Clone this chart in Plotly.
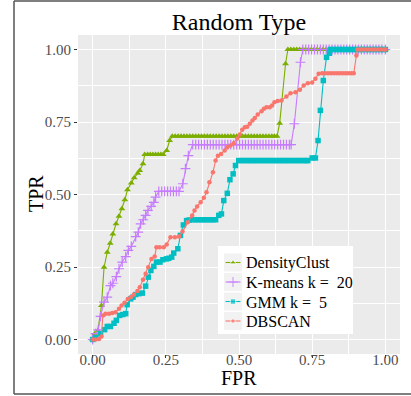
import plotly.graph_objects as go

# ---------------- data ----------------
dc_fpr = [0.000, 0.007, 0.018, 0.030, 0.039, 0.050, 0.060, 0.069, 0.080, 0.090,
          0.100, 0.110, 0.119, 0.132, 0.142, 0.154, 0.161, 0.172, 0.178, 0.188,
          0.197, 0.206, 0.215, 0.224, 0.233, 0.241, 0.253, 0.263, 0.272, 0.282,
          0.292, 0.302, 0.312, 0.322, 0.332, 0.342, 0.352, 0.362, 0.372, 0.382,
          0.392, 0.402, 0.412, 0.422, 0.432, 0.442, 0.452, 0.462, 0.472, 0.482,
          0.492, 0.502, 0.512, 0.522, 0.532, 0.542, 0.552, 0.562, 0.572, 0.582,
          0.592, 0.602, 0.612, 0.621, 0.630, 0.639, 0.659, 0.667, 0.677, 0.687,
          0.697, 0.707, 0.717, 0.727, 0.737, 0.747, 0.757, 0.767, 0.777, 0.787,
          0.797, 0.807, 0.817, 0.827, 0.837, 0.847, 0.857, 0.867, 0.877, 0.887,
          0.897, 0.907, 0.917, 0.927, 0.937, 0.947, 0.957, 0.967, 0.977, 0.987,
          1.000]
dc_tpr = [0.000, 0.020, 0.031, 0.117, 0.249, 0.301, 0.332, 0.364, 0.399, 0.425,
          0.451, 0.482, 0.516, 0.540, 0.558, 0.573, 0.583, 0.606, 0.638, 0.638,
          0.638, 0.638, 0.638, 0.638, 0.638, 0.638, 0.652, 0.686, 0.701, 0.701,
          0.701, 0.701, 0.701, 0.701, 0.701, 0.701, 0.701, 0.701, 0.701, 0.701,
          0.701, 0.701, 0.701, 0.701, 0.701, 0.701, 0.701, 0.701, 0.701, 0.701,
          0.701, 0.701, 0.701, 0.701, 0.701, 0.701, 0.701, 0.701, 0.701, 0.701,
          0.701, 0.701, 0.701, 0.701, 0.701, 0.746, 0.951, 1.000, 1.000, 1.000,
          1.000, 1.000, 1.000, 1.000, 1.000, 1.000, 1.000, 1.000, 1.000, 1.000,
          1.000, 1.000, 1.000, 1.000, 1.000, 1.000, 1.000, 1.000, 1.000, 1.000,
          1.000, 1.000, 1.000, 1.000, 1.000, 1.000, 1.000, 1.000, 1.000, 1.000,
          1.000]

km_fpr = [0.000, 0.010, 0.019, 0.027, 0.039, 0.050, 0.061, 0.069, 0.081, 0.090,
          0.101, 0.113, 0.122, 0.132, 0.147, 0.156, 0.164, 0.173, 0.181, 0.189,
          0.200, 0.209, 0.215, 0.226, 0.236, 0.246, 0.256, 0.266, 0.276, 0.286,
          0.295, 0.308, 0.317, 0.327, 0.342, 0.352, 0.362, 0.372, 0.382, 0.392,
          0.402, 0.412, 0.422, 0.432, 0.442, 0.452, 0.462, 0.472, 0.482, 0.492,
          0.502, 0.512, 0.522, 0.532, 0.542, 0.552, 0.562, 0.572, 0.582, 0.592,
          0.602, 0.612, 0.622, 0.632, 0.642, 0.652, 0.662, 0.672, 0.678, 0.689,
          0.710, 0.718, 0.728, 0.738, 0.748, 0.758, 0.768, 0.778, 0.788, 0.798,
          0.808, 0.818, 0.828, 0.838, 0.848, 0.858, 0.868, 0.878, 0.888, 0.898,
          0.908, 0.918, 0.928, 0.938, 0.948, 0.958, 0.968, 0.978, 0.988, 1.000]
km_tpr = [0.000, 0.020, 0.033, 0.080, 0.129, 0.146, 0.186, 0.194, 0.217, 0.244,
          0.267, 0.286, 0.307, 0.321, 0.355, 0.370, 0.399, 0.413, 0.428, 0.445,
          0.459, 0.473, 0.491, 0.511, 0.511, 0.511, 0.511, 0.511, 0.511, 0.511,
          0.511, 0.537, 0.589, 0.634, 0.672, 0.672, 0.672, 0.672, 0.672, 0.672,
          0.672, 0.672, 0.672, 0.672, 0.672, 0.672, 0.672, 0.672, 0.672, 0.672,
          0.672, 0.672, 0.672, 0.672, 0.672, 0.672, 0.672, 0.672, 0.672, 0.672,
          0.672, 0.672, 0.672, 0.672, 0.672, 0.672, 0.672, 0.672, 0.672, 0.744,
          0.956, 1.000, 1.000, 1.000, 1.000, 1.000, 1.000, 1.000, 1.000, 1.000,
          1.000, 1.000, 1.000, 1.000, 1.000, 1.000, 1.000, 1.000, 1.000, 1.000,
          1.000, 1.000, 1.000, 1.000, 1.000, 1.000, 1.000, 1.000, 1.000, 1.000]

gmm_fpr = [0.000, 0.010, 0.027, 0.041, 0.050, 0.061, 0.073, 0.081, 0.092, 0.103,
           0.113, 0.118, 0.130, 0.138, 0.147, 0.158, 0.170, 0.181, 0.190, 0.199,
           0.209, 0.218, 0.230, 0.240, 0.252, 0.260, 0.270, 0.277, 0.291, 0.300,
           0.310, 0.321, 0.330, 0.340, 0.350, 0.360, 0.370, 0.380, 0.390, 0.400,
           0.410, 0.420, 0.431, 0.440, 0.448, 0.460, 0.469, 0.480, 0.488, 0.499,
           0.509, 0.519, 0.529, 0.539, 0.549, 0.559, 0.569, 0.579, 0.589, 0.599,
           0.609, 0.619, 0.629, 0.639, 0.649, 0.659, 0.669, 0.679, 0.689, 0.699,
           0.709, 0.719, 0.729, 0.735, 0.750, 0.761, 0.770, 0.778, 0.788, 0.799,
           0.809, 0.812, 0.822, 0.832, 0.842, 0.852, 0.862, 0.872, 0.882, 0.892,
           0.902, 0.912, 0.922, 0.932, 0.942, 0.952, 0.962, 0.972, 0.982, 0.992,
           1.000]
gmm_tpr = [0.000, 0.006, 0.020, 0.034, 0.045, 0.045, 0.056, 0.066, 0.083, 0.086,
           0.089, 0.120, 0.140, 0.146, 0.155, 0.158, 0.160, 0.184, 0.215, 0.238,
           0.252, 0.267, 0.267, 0.275, 0.278, 0.280, 0.284, 0.298, 0.313, 0.359,
           0.395, 0.410, 0.412, 0.413, 0.413, 0.413, 0.413, 0.413, 0.413, 0.413,
           0.413, 0.413, 0.428, 0.433, 0.479, 0.504, 0.551, 0.571, 0.600, 0.617,
           0.617, 0.617, 0.617, 0.617, 0.617, 0.617, 0.617, 0.617, 0.617, 0.617,
           0.617, 0.617, 0.617, 0.617, 0.617, 0.617, 0.617, 0.617, 0.617, 0.617,
           0.617, 0.617, 0.617, 0.617, 0.626, 0.626, 0.686, 0.790, 0.893, 0.973,
           0.987, 1.000, 1.000, 1.000, 1.000, 1.000, 1.000, 1.000, 1.000, 1.000,
           1.000, 1.000, 1.000, 1.000, 1.000, 1.000, 1.000, 1.000, 1.000, 1.000,
           1.000]

db_fpr = [0.000, 0.010, 0.022, 0.030, 0.035, 0.044, 0.056, 0.067, 0.078, 0.090,
          0.099, 0.109, 0.120, 0.130, 0.141, 0.153, 0.161, 0.172, 0.181, 0.190,
          0.201, 0.212, 0.218, 0.229, 0.243, 0.253, 0.266, 0.281, 0.295, 0.307,
          0.325, 0.340, 0.348, 0.357, 0.369, 0.380, 0.389, 0.399, 0.411, 0.420,
          0.428, 0.439, 0.451, 0.460, 0.471, 0.482, 0.494, 0.503, 0.511, 0.520,
          0.528, 0.537, 0.546, 0.554, 0.564, 0.577, 0.585, 0.594, 0.605, 0.613,
          0.621, 0.632, 0.645, 0.662, 0.676, 0.693, 0.708, 0.721, 0.735, 0.750,
          0.761, 0.772, 0.784, 0.794, 0.804, 0.814, 0.824, 0.834, 0.844, 0.854,
          0.864, 0.874, 0.884, 0.892, 0.901, 0.905, 0.915, 0.925, 0.935, 0.945,
          0.955, 0.965, 0.975, 0.985, 0.995, 1.000]
db_tpr = [0.000, 0.000, 0.002, 0.010, 0.083, 0.089, 0.089, 0.091, 0.094, 0.106,
          0.117, 0.127, 0.140, 0.146, 0.155, 0.167, 0.180, 0.206, 0.227, 0.249,
          0.278, 0.286, 0.318, 0.318, 0.318, 0.328, 0.353, 0.353, 0.355, 0.372,
          0.404, 0.428, 0.445, 0.459, 0.473, 0.489, 0.508, 0.542, 0.577, 0.617,
          0.634, 0.640, 0.652, 0.663, 0.669, 0.677, 0.693, 0.707, 0.723, 0.732,
          0.734, 0.744, 0.755, 0.764, 0.776, 0.787, 0.796, 0.801, 0.801, 0.807,
          0.818, 0.822, 0.824, 0.838, 0.849, 0.853, 0.861, 0.876, 0.884, 0.886,
          0.899, 0.916, 0.918, 0.918, 0.918, 0.918, 0.918, 0.918, 0.918, 0.918,
          0.918, 0.918, 0.918, 0.918, 0.979, 1.000, 1.000, 1.000, 1.000, 1.000,
          1.000, 1.000, 1.000, 1.000, 1.000, 1.000]

series_names = ["DensityClust", "K-means k = \u00a020", "GMM k = \u00a05", "DBSCAN"]
tick_vals = [0, 0.25, 0.5, 0.75, 1.0]
tick_text = ["0.00", "0.25", "0.50", "0.75", "1.00"]

# ---------------- styling ----------------
colors = ["#7CAE00", "#C77CFF", "#00BFC4", "#F8766D"]
symbols = ["triangle-up", "cross-thin", "square", "circle"]
sizes = [6, 7, 5.5, 4.5]
FONT = "Liberation Serif"

W, H = 411, 396
ML, MR, MT, MB = 78, 11, 35, 42
PW, PH = W - ML - MR, H - MT - MB

# legend layout (pixel positions)
LEG_L, LEG_T, LEG_R, LEG_B = 218, 246, 353, 334
KEY_L, KEY_R, KEY_H = 224, 242, 19
KEY_CY = [262.5, 282.0, 301.5, 321.0]
TEXT_X = 244


def px_x(px):
    return (px - ML) / PW


def px_y(py):
    return (H - MB - py) / PH


fig = go.Figure()
data = [(dc_fpr, dc_tpr), (km_fpr, km_tpr), (gmm_fpr, gmm_tpr), (db_fpr, db_tpr)]


def marker_for(i):
    mk = dict(symbol=symbols[i], size=sizes[i], color=colors[i])
    if symbols[i] == "cross-thin":
        mk["line"] = dict(color=colors[i], width=1.2)
    return mk


for i, ((xs, ys), name) in enumerate(zip(data, series_names)):
    fig.add_trace(go.Scatter(x=xs, y=ys, mode="lines+markers", name=name,
                             line=dict(color=colors[i], width=1.1),
                             marker=marker_for(i), showlegend=False,
                             hoverinfo="x+y+name"))

# ---- manual ggplot-style legend on a pixel overlay axis ----
ov = dict(xaxis="x2", yaxis="y2", showlegend=False, hoverinfo="skip")
fig.add_trace(go.Scatter(x=[LEG_L, LEG_R, LEG_R, LEG_L, LEG_L],
                         y=[LEG_T, LEG_T, LEG_B, LEG_B, LEG_T],
                         mode="lines", fill="toself", fillcolor="white",
                         line=dict(width=0, color="white"), **ov))
for i, cy in enumerate(KEY_CY):
    y0, y1 = cy - KEY_H / 2 + 0.5, cy + KEY_H / 2 - 0.5
    fig.add_trace(go.Scatter(x=[KEY_L, KEY_R, KEY_R, KEY_L, KEY_L],
                             y=[y0, y0, y1, y1, y0],
                             mode="lines", fill="toself", fillcolor="#F2F2F2",
                             line=dict(width=0, color="#F2F2F2"), **ov))
    fig.add_trace(go.Scatter(x=[KEY_L + 1.5, (KEY_L + KEY_R) / 2, KEY_R - 1.5],
                             y=[cy, cy, cy], mode="lines+markers",
                             line=dict(color=colors[i], width=1.1),
                             marker=dict(marker_for(i), size=[0, sizes[i], 0]), **ov))
    fig.add_annotation(text=series_names[i], xref="paper", yref="paper",
                       x=px_x(TEXT_X), y=px_y(cy + 0.5), xanchor="left", yanchor="middle",
                       showarrow=False, font=dict(family=FONT, size=16, color="black"))

axis_common = dict(
    range=[-0.05, 1.05], tickvals=tick_vals, ticktext=tick_text,
    showgrid=True, gridcolor="white", gridwidth=1.3, zeroline=False,
    ticks="outside", ticklen=3, tickcolor="#333333", tickwidth=1,
    tickfont=dict(family=FONT, size=15, color="#4D4D4D"),
    showline=False, automargin=False,
    minor=dict(tickvals=[0.125, 0.375, 0.625, 0.875], showgrid=True,
               gridcolor="white", gridwidth=0.7, ticks=""),
)

fig.update_layout(
    width=W, height=H,
    margin=dict(l=ML, r=MR, t=MT, b=MB, autoexpand=False),
    paper_bgcolor="white", plot_bgcolor="#EBEBEB",
    title=dict(text="Random Type", x=239 / W, xanchor="center",
               y=1 - 22 / H, yanchor="middle",
               font=dict(family=FONT, size=24, color="black")),
    xaxis=dict(**axis_common, ticklabelstandoff=-11),
    yaxis=dict(**axis_common),
    xaxis2=dict(overlaying="x", range=[ML, W - MR], visible=False, fixedrange=True),
    yaxis2=dict(overlaying="y", range=[H - MB, MT], visible=False, fixedrange=True),
    showlegend=False,
)

# axis titles
fig.add_annotation(text="FPR", xref="paper", yref="paper", x=px_x(239), y=px_y(378.5),
                   xanchor="center", yanchor="middle", showarrow=False,
                   height=16, valign="middle", borderpad=0,
                   font=dict(family=FONT, size=20, color="black"))
fig.add_annotation(text="TPR", xref="paper", yref="paper", x=px_x(36), y=px_y(194),
                   xanchor="center", yanchor="middle", showarrow=False, textangle=-90,
                   font=dict(family=FONT, size=20, color="black"))

# outer frame (left, top, bottom)
for x0, y0, x1, y1 in [(14, 1, 14, 394), (14, 1, 411, 1), (14, 394, 411, 394)]:
    fig.add_shape(type="line", xref="paper", yref="paper",
                  x0=px_x(x0), x1=px_x(x1), y0=px_y(y0), y1=px_y(y1),
                  line=dict(color="#555555", width=1.5), layer="above")

fig.write_html("out.html")
